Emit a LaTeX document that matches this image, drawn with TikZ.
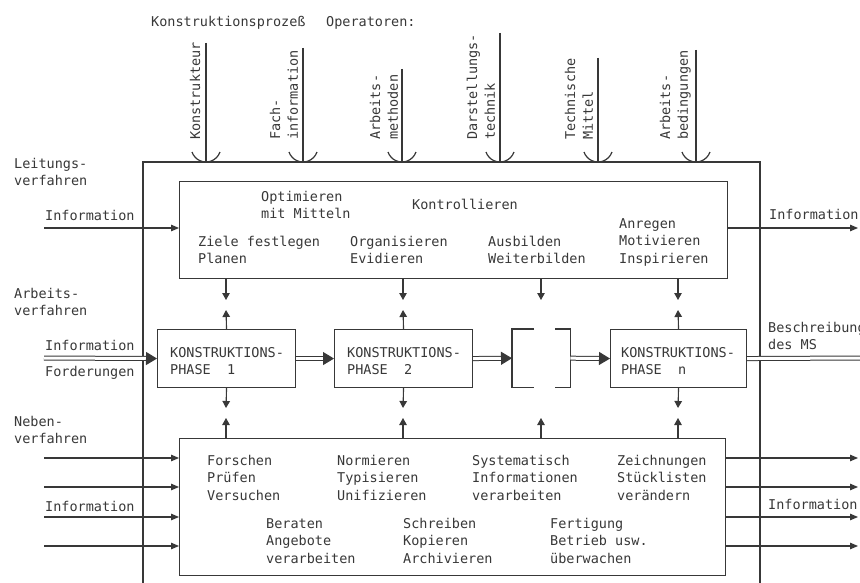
\documentclass[tikz,border=0pt]{standalone}
\usepackage{fontspec}
\setmonofont{DejaVu Sans Mono}
\usetikzlibrary{arrows.meta}
\definecolor{ink}{rgb}{0.22,0.22,0.22}
\newcommand\fl{\rule{0pt}{12.4pt}}
\begin{document}
\begin{tikzpicture}[x=1pt,y=-1pt,
  txt/.style={font=\ttfamily\fontsize{13.5pt}{17.7pt}\selectfont, text=ink, anchor=north west, inner sep=0pt, align=left, yshift=12.4pt},
  rtxt/.style={font=\ttfamily\fontsize{13.5pt}{17.7pt}\selectfont, text=ink, anchor=north west, inner sep=0pt, align=left, rotate=90},
  frame/.style={draw=ink, line width=1.4pt},
  box/.style={draw=ink, line width=1.1pt, inner sep=0pt, anchor=north west},
  arr/.style={draw=ink, line width=1.1pt, -{Triangle[length=8pt,width=6.5pt]}},
  sarr/.style={draw=ink, line width=1.1pt, -{Triangle[length=7pt,width=7.5pt]}},
  dbl/.style={draw=ink, line width=1pt, double=white, double distance=3pt, -{Triangle[length=11pt,width=13pt]}},
  dblend/.style={draw=ink, line width=1pt, double=white, double distance=3pt},
]
\fill[white] (0,0) rectangle (860,583);
\useasboundingbox (0,0) rectangle (860,583);

% title
\node[txt] (title) at (151,26) {\fl Konstruktionsproze\ss};
\node[txt] (oper) at (326,26) {\fl Operatoren:};

% outer frame (open at bottom)
\coordinate (oBL) at (143,583);
\coordinate (oTL) at (143,162);
\coordinate (oTR) at (760,162);
\coordinate (oBR) at (760,583);
\draw[frame] (oBL) -- (oTL) -- (oTR) -- (oBR);

% operator arrows
\foreach \i/\x/\t in {1/206/43, 2/303/48, 3/402/69, 4/500/33, 5/598/58, 6/696/50}{
  \coordinate (opt\i) at (\x,\t);
  \coordinate (opb\i) at (\x,162);
  \draw[frame, line width=1.2pt] (opt\i) -- (opb\i);
  \draw[frame, line width=1.2pt] ([xshift=-14pt,yshift=10pt]opb\i) arc[start angle=-161, end angle=-19, radius=14.8pt];
}
\node[rtxt] (lk) at (187.6,140) {\fl Konstrukteur};
\node[rtxt] (lf) at (267.6,140) {\fl Fach-\\information};
\node[rtxt] (lm) at (367.6,140) {\fl Arbeits-\\methoden};
\node[rtxt] (ld) at (464.6,140) {\fl Darstellungs-\\technik};
\node[rtxt] (lt) at (562.6,140) {\fl Technische\\Mittel};
\node[rtxt] (lb) at (657.6,140) {\fl Arbeits-\\bedingungen};

% boxes
\node[box, minimum width=548pt, minimum height=97pt] (ctrl) at (179,181) {};
\node[box, minimum width=138pt, minimum height=58pt] (p1) at (157,329) {};
\node[box, minimum width=138pt, minimum height=58pt] (p2) at (334,329) {};
\node[inner sep=0pt, anchor=north west, minimum width=58pt, minimum height=58pt] (brk) at (512,329) {};
\node[box, minimum width=136pt, minimum height=58pt] (pn) at (610,329) {};
\node[box, minimum width=546pt, minimum height=137pt] (bot) at (179,438) {};

\draw[box] ([xshift=22pt]brk.north west) -- (brk.north west) -- (brk.south west) -- ([xshift=22pt]brk.south west);
\draw[box] ([xshift=-15pt]brk.north east) -- (brk.north east) -- (brk.south east) -- ([xshift=-15pt]brk.south east);

% texts in top box
\node[txt] (t1) at (261,201) {\fl Optimieren\\mit Mitteln};
\node[txt] (t2) at (412,209) {\fl Kontrollieren};
\node[txt] (t3) at (198,246) {\fl Ziele festlegen\\Planen};
\node[txt] (t4) at (350,246) {\fl Organisieren\\Evidieren};
\node[txt] (t5) at (488,246) {\fl Ausbilden\\Weiterbilden};
\node[txt] (t6) at (619,228) {\fl Anregen\\Motivieren\\Inspirieren};

% phase texts
\node[txt] (p1t) at (170,357) {\fl KONSTRUKTIONS-\\PHASE\ \ 1};
\node[txt] (p2t) at (347,357) {\fl KONSTRUKTIONS-\\PHASE\ \ 2};
\node[txt] (pnt) at (621,357) {\fl KONSTRUKTIONS-\\PHASE\ \ n};

% bottom box texts
\node[txt] (b1) at (207,465) {\fl Forschen\\Pr\"ufen\\Versuchen};
\node[txt] (b2) at (337,465) {\fl Normieren\\Typisieren\\Unifizieren};
\node[txt] (b3) at (472,465) {\fl Systematisch\\Informationen\\verarbeiten};
\node[txt] (b4) at (617,465) {\fl Zeichnungen\\St\"ucklisten\\ver\"andern};
\node[txt] (b5) at (266,528) {\fl Beraten\\Angebote\\verarbeiten};
\node[txt] (b6) at (403,528) {\fl Schreiben\\Kopieren\\Archivieren};
\node[txt] (b7) at (550,528) {\fl Fertigung\\Betrieb usw.\\\"uberwachen};

% left labels
\node[txt] (l1) at (14,168) {\fl Leitungs-\\verfahren};
\node[txt] (l2) at (45,220) {\fl Information};
\node[txt] (l3) at (14,298) {\fl Arbeits-\\verfahren};
\node[txt] (l4) at (45,350) {\fl Information};
\node[txt] (l5) at (45,376) {\fl Forderungen};
\node[txt] (l6) at (14,426) {\fl Neben-\\verfahren};
\node[txt] (l7) at (45,511) {\fl Information};

% right labels
\node[txt] (r1) at (769,219) {\fl Information};
\node[txt] (r2) at (768,332) {\fl Beschreibung\\des MS};
\node[txt] (r3) at (768,509) {\fl Information};

% vertical small arrows
\coordinate (d1) at (226,300); \coordinate (d2) at (403,300);
\coordinate (d3) at (541,300); \coordinate (d4) at (678,300);
\foreach \i in {1,2,3,4}{ \draw[sarr] (ctrl.south -| d\i) -- (d\i); }
\coordinate (u1) at (226,310); \coordinate (u2) at (403,310); \coordinate (u4) at (678,310);
\draw[sarr] (p1.north) -- (u1);
\draw[sarr] (p2.north) -- (u2);
\draw[sarr] (pn.north) -- (u4);
\coordinate (v1) at (226,408); \coordinate (v2) at (403,408); \coordinate (v4) at (678,408);
\draw[sarr] (p1.south) -- (v1);
\draw[sarr] (p2.south) -- (v2);
\draw[sarr] (pn.south) -- (v4);
\coordinate (w1) at (226,418); \coordinate (w2) at (403,418);
\coordinate (w3) at (541,418); \coordinate (w4) at (678,418);
\foreach \i in {1,2,3,4}{ \draw[sarr] (bot.north -| w\i) -- (w\i); }

% information arrows
\coordinate (iA) at (44,228);
\draw[arr] (iA) -- (iA -| ctrl.west);
\coordinate (oA) at (858,228);
\draw[arr] (oA -| ctrl.east) -- (oA);
\foreach \i/\y in {1/458, 2/487, 3/517, 4/546}{
  \coordinate (iB\i) at (44,\y);
  \draw[arr] (iB\i) -- (iB\i -| bot.west);
  \coordinate (oB\i) at (858,\y);
  \draw[arr] (oB\i -| bot.east) -- (oB\i);
}

% double arrows
\coordinate (iC) at (44,358);
\coordinate (oC) at (862,358);
\draw[dbl] (iC) -- (p1.west);
\draw[dbl] (p1.east) -- (p2.west);
\draw[dbl] (p2.east) -- (brk.west);
\draw[dbl] (brk.east) -- (pn.west);
\draw[dblend] (pn.east) -- (oC);
\end{tikzpicture}
\end{document}
